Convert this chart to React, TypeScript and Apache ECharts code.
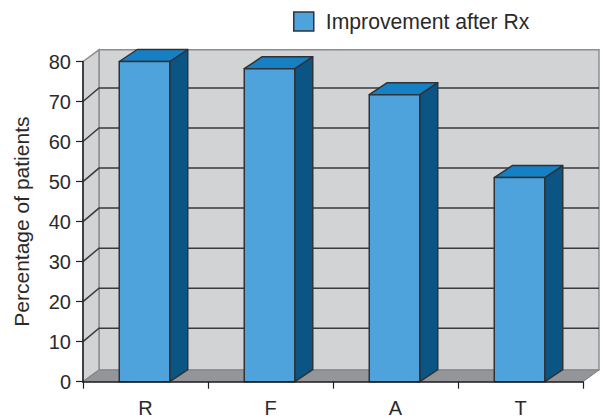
import React, { useEffect, useRef } from "react";
import * as echarts from "echarts";

const categories = ["R", "F", "A", "T"];
const improvement = [80, 78.2, 71.7, 51];
const axisTicks = [10, 20, 30, 40, 50, 60, 70];
const seriesName = "Improvement after Rx";
const yTitle = "Percentage of patients";

const FONT = "'Liberation Sans', Arial, sans-serif";
const INK = "#2b2a2a";

// Oblique projection used for the pseudo-3D look
const WALL_DX = 16;
const WALL_DY = 11.7;
const GRID_DY = 13.5;
const BAR_WIDTH = 50.5;
const BAR_DX = 18;
const BAR_DY = 12;
const BAR_SHIFT = -1;

function panelItem(params: any) {
  const { x, y, width, height } = params.coordSys;
  const x2 = x + width;
  const y2 = y + height;
  const wall = "#d1d3d4";
  const edge = { stroke: "#8c8e91", lineWidth: 1.5 };
  return {
    type: "group",
    children: [
      {
        type: "polygon",
        shape: { points: [[x + WALL_DX, y - WALL_DY], [x2 + WALL_DX, y - WALL_DY], [x2 + WALL_DX, y2 - WALL_DY], [x + WALL_DX, y2 - WALL_DY]] },
        style: { fill: wall, ...edge },
      },
      {
        type: "polygon",
        shape: { points: [[x, y], [x + WALL_DX, y - WALL_DY], [x + WALL_DX, y2 - WALL_DY], [x, y2]] },
        style: { fill: wall, ...edge },
      },
      {
        type: "polygon",
        shape: { points: [[x, y2], [x + WALL_DX, y2 - WALL_DY], [x2 + WALL_DX, y2 - WALL_DY], [x2, y2]] },
        style: { fill: "#939598", stroke: "#808285", lineWidth: 1 },
      },
    ],
  };
}

function gridLineItem(params: any, api: any) {
  const { x, width } = params.coordSys;
  const py = api.coord([0, api.value(0)])[1];
  const style = { stroke: "#3a3a3c", lineWidth: 1.5, fill: "none" };
  return {
    type: "polyline",
    shape: { points: [[x, py], [x + WALL_DX, py - GRID_DY], [x + width + WALL_DX, py - GRID_DY]] },
    style,
  };
}

function barItem(_params: any, api: any) {
  const top = api.coord([api.value(0), api.value(1)]);
  const base = api.coord([api.value(0), 0]);
  const l = top[0] - BAR_WIDTH / 2 + BAR_SHIFT;
  const r = l + BAR_WIDTH;
  const stroke = { stroke: "#2f3338", lineWidth: 1.5, lineJoin: "round" };
  return {
    type: "group",
    children: [
      {
        type: "polygon",
        shape: { points: [[r, top[1]], [r + BAR_DX, top[1] - BAR_DY], [r + BAR_DX, base[1] - BAR_DY], [r, base[1]]] },
        style: { fill: "#0b5585", ...stroke },
      },
      {
        type: "polygon",
        shape: { points: [[l, top[1]], [l + BAR_DX, top[1] - BAR_DY], [r + BAR_DX, top[1] - BAR_DY], [r, top[1]]] },
        style: { fill: "#1580c4", ...stroke },
      },
      {
        type: "rect",
        shape: { x: l, y: top[1], width: BAR_WIDTH, height: base[1] - top[1] },
        style: { fill: "#4fa3dc", ...stroke },
      },
    ],
  };
}

export default function App() {
  const ref = useRef<HTMLDivElement>(null);

  useEffect(() => {
    const chart = echarts.init(ref.current!, undefined, { renderer: "svg" });
    chart.setOption({
      animation: false,
      backgroundColor: "#ffffff",
      grid: { left: 83, right: 20, top: 61.5, bottom: 37.3, outerBoundsMode: "none" },
      legend: {
        data: [{ name: seriesName, icon: "rect" }],
        left: 293,
        top: 11,
        padding: 0,
        itemWidth: 20,
        itemHeight: 19,
        itemStyle: { borderColor: "#2f3338", borderWidth: 1.5 },
        textStyle: { fontFamily: FONT, fontSize: 21.2, color: INK, padding: [0, 0, 0, 7] },
        selectedMode: false,
      },
      xAxis: {
        type: "category",
        data: categories,
        z: 6,
        axisLine: { show: true, lineStyle: { color: "#231f20", width: 1.5 } },
        axisTick: { show: true, length: 7, lineStyle: { color: "#231f20", width: 1.2 } },
        axisLabel: { fontFamily: FONT, fontSize: 20, color: INK, margin: 17, lineHeight: 18 },
        splitLine: { show: false },
      },
      yAxis: {
        type: "value",
        min: 0,
        max: 80,
        interval: 10,
        z: 6,
        name: yTitle,
        nameLocation: "middle",
        nameGap: 51,
        nameTextStyle: { fontFamily: FONT, fontSize: 21, color: INK },
        axisLine: { show: true, lineStyle: { color: "#231f20", width: 1.5 } },
        axisTick: { show: true, length: 7, lineStyle: { color: "#231f20", width: 1.2 } },
        axisLabel: { fontFamily: FONT, fontSize: 20, color: INK, margin: 12 },
        splitLine: { show: false },
      },
      series: [
        {
          type: "custom",
          name: "walls",
          silent: true,
          z: 1,
          data: [0],
          renderItem: panelItem,
        },
        {
          type: "custom",
          name: "gridlines",
          silent: true,
          z: 2,
          data: axisTicks,
          encode: { y: 0 },
          renderItem: gridLineItem,
        },
        {
          type: "custom",
          name: seriesName,
          z: 3,
          itemStyle: { color: "#4fa3dc" },
          data: improvement.map((v, i) => [i, v]),
          encode: { x: 0, y: 1 },
          renderItem: barItem,
        },
      ],
    });
    return () => chart.dispose();
  }, []);

  return <div ref={ref} style={{ position: "absolute", left: 0, top: 0, width: 603, height: 419 }} />;
}
